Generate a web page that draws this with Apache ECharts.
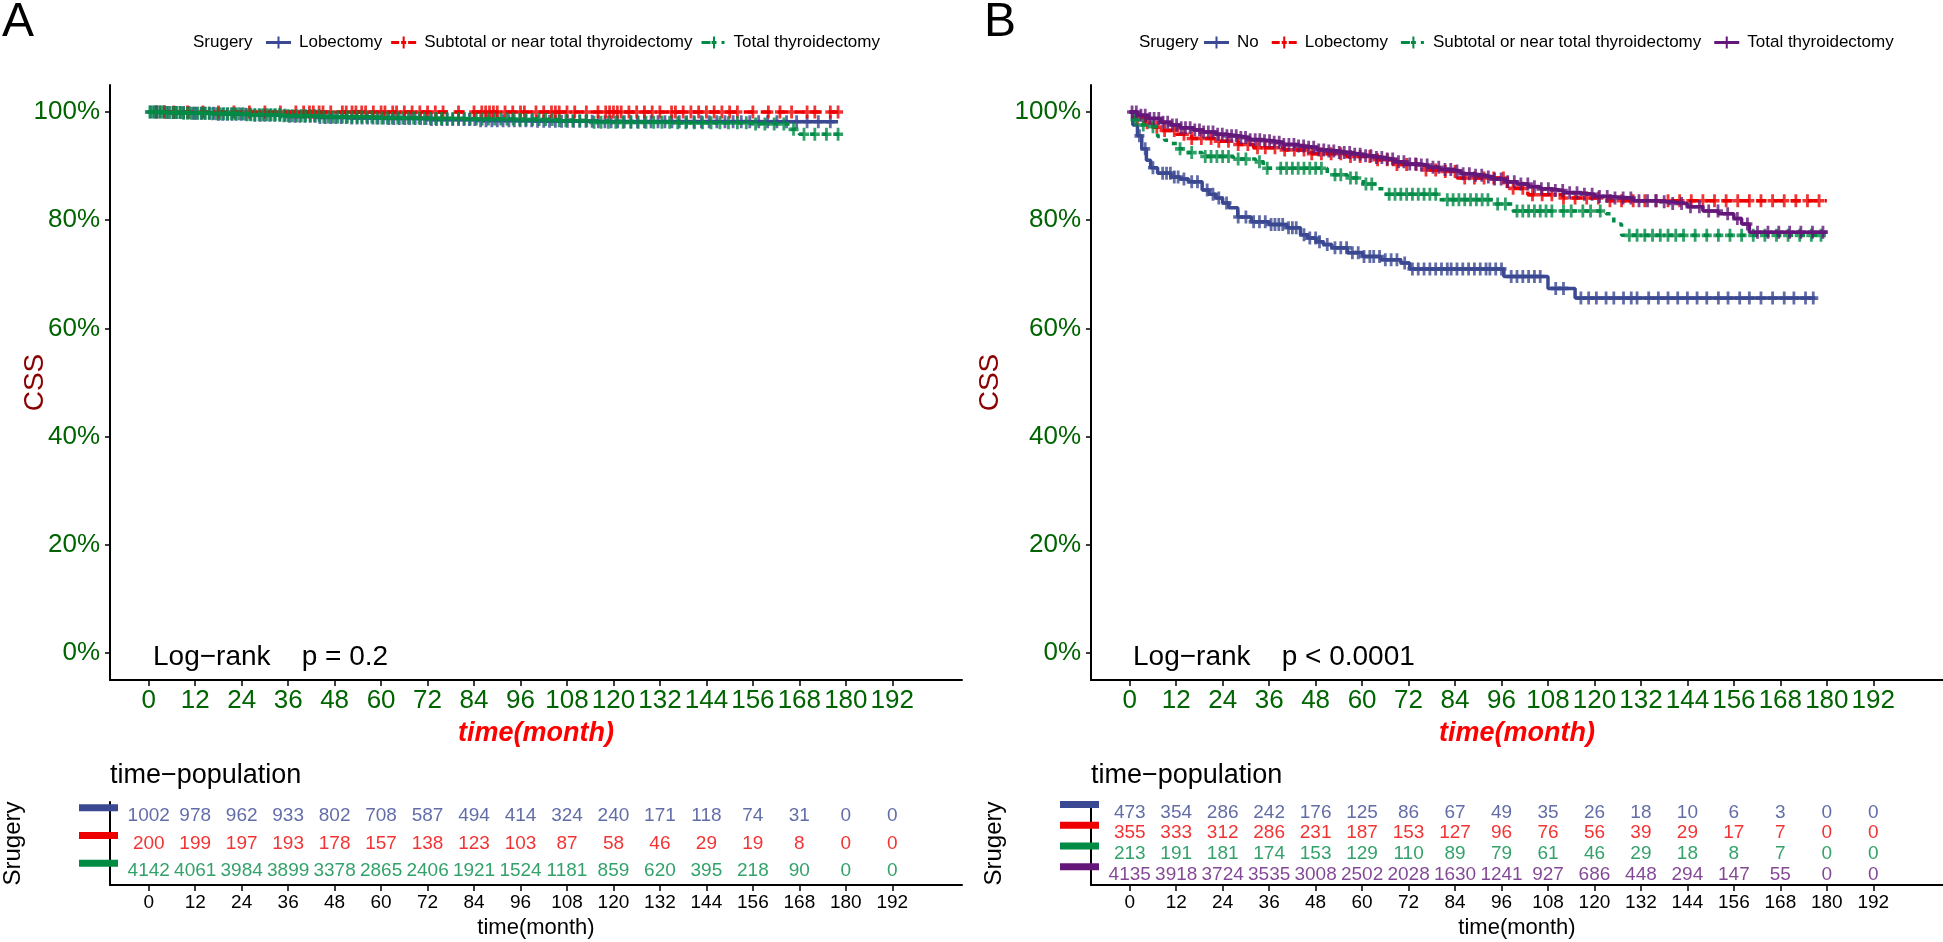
<!DOCTYPE html>
<html><head><meta charset="utf-8">
<script src="https://cdn.jsdelivr.net/npm/echarts@6/dist/echarts.min.js"></script>
<style>html,body{margin:0;padding:0;background:#fff}#c{width:1943px;height:942px}</style>
</head><body><div id="c"></div>
<script>
// ---------- tick labels ----------
const timeTicks = [0,12,24,36,48,60,72,84,96,108,120,132,144,156,168,180,192];
const survTicks = [0,20,40,60,80,100];

// ---------- strata ----------
const strataA = ['Lobectomy','Subtotal or near total thyroidectomy','Total thyroidectomy'];
const strataB = ['No','Lobectomy','Subtotal or near total thyroidectomy','Total thyroidectomy'];

// ---------- Kaplan-Meier steps [month, CSS %] ----------
const kmA_Lob = [[0,100],[5,99.9],[11,99.8],[18,99.6],[27,99.4],[36,99.2],[44,99.0],[52,98.9],[62,98.8],[73,98.6],[85,98.4],[100,98.3],[116,98.2],[178,98.2]];
const kmA_Sub = [[0,100],[178,100]];
const kmA_Tot = [[0,100],[4,99.9],[9,99.8],[16,99.7],[25,99.5],[34,99.3],[45,99.1],[58,98.9],[70,98.8],[82,98.7],[95,98.6],[106,98.4],[114,98.1],[135,98.0],[155,97.8],[166,96.8],[168,95.9],[179,95.9]];

const kmB_No  = [[0,100],[0.8,97.6],[2,95.6],[3.1,93.2],[4.3,91.1],[5.4,89.7],[7.2,88.7],[10.6,88.0],[13,87.6],[15.2,87.1],[18.7,85.6],[20.5,84.8],[22.2,84.1],[24,83.2],[25.6,82.3],[27.9,80.6],[31.4,79.7],[36,79.2],[40.6,78.6],[44.1,77.3],[46,76.7],[48.1,76.0],[50,75.5],[52.2,74.9],[56.2,74.0],[60.2,73.3],[64.8,72.7],[70,72.1],[72.3,71.0],[96.6,69.6],[108,67.4],[115,65.6],[177,65.6]];
const kmB_Lob = [[0,100],[2,99.0],[4,98.0],[6,97.2],[8,96.6],[12,95.9],[16,95.1],[22,94.6],[28,94.0],[32,93.4],[40,93.0],[47,92.3],[56,91.8],[64,91.2],[68,90.3],[76,89.3],[80,89.0],[84.5,87.8],[97.5,85.9],[102.8,84.7],[112,84.1],[124,83.6],[180,83.6]];
const kmB_Sub = [[0,100],[1,98.6],[2,97.6],[4.9,97.3],[7.2,95.5],[9,94.8],[10.6,94.2],[12.5,93.2],[14.1,92.5],[18.7,91.8],[26.8,91.3],[32.5,90.8],[34.5,89.6],[51,88.4],[56.2,87.8],[60.3,86.7],[63.7,85.8],[65.6,84.8],[79.8,83.8],[93.7,83.0],[99,81.7],[123,81.2],[125,79.3],[127,77.2],[179,77.2]];
const kmB_Tot = [[0,100],[2,99.4],[4.9,98.8],[8,98.1],[10.6,97.6],[13,97.1],[16.4,96.7],[19,96.3],[22.2,95.9],[25,95.6],[27.9,95.3],[31,94.9],[33.7,94.7],[37,94.4],[39.6,94.0],[43,93.7],[45.2,93.5],[48.5,93.0],[51,92.8],[54,92.5],[57,92.2],[60,91.9],[62.5,91.6],[65.7,91.3],[68.3,90.8],[71,90.4],[74.2,90.2],[77,89.8],[80,89.4],[83,89.1],[85.6,88.6],[88.5,88.3],[91.5,88.0],[94,87.6],[97,87.1],[100,86.7],[102.9,86.2],[106,85.8],[108.7,85.5],[112,85.1],[116,84.8],[120,84.4],[124,84.1],[130,83.6],[136,83.4],[140,83.1],[144,82.5],[148,81.7],[152,81.2],[156,80.3],[158,79.3],[160,77.8],[180,77.8]];

// ---------- censoring times (months) ----------
const censA_Lob = [0.5,1.5,2.2,3,4.1,5,6.3,7,8.2,9,10.4,11.5,12.3,13.6,14.5,15.7,16.8,18,19.1,20.3,21.5,22.6,23.9,25,26.2,27.4,28.8,30,31.3,32.5,33.9,35.2,36.4,37.8,39,40.3,41.7,43,44.2,45.6,47,48.3,49.7,51,52.4,53.8,55.1,56.5,57.9,59.2,60.6,62,63.3,64.7,66.1,67.4,68.8,70.2,71.6,73,74.3,75.7,77.1,78.5,80,81.4,82.8,84.2,85.7,87.1,88.6,90,91.5,93,94.4,95.9,97.4,98.9,100.4,102,103.5,105,106.6,108.1,109.7,111.3,112.9,114.5,116.1,117.8,119.4,121.1,122.8,124.5,126.2,128,129.7,131.5,133.3,135.1,137,138.9,140.8,142.7,144.7,146.7,148.8,150.9,153,155.2,157.5,159.8,162.2,164.7,167.3,170,172.9,176];
const censA_Sub = [2,4,6.5,10,14,18,22,26,30,34,38,40,41.5,42.5,44,45,47,50,51,52.5,53.5,55,56,58,60,61,63,64,66,68,70,72,74,76,80,84,86,87,88,89,90,92,94,96,97,100,102,104,105,106,108,110,113,116,118,119,120,121,122,124,126,128,130,132,135,136,138,140,142,144,146,148,150,152,156,160,163,166,170,172,176,178];
const censA_Tot = [0.3,1.2,2,2.9,3.7,4.6,5.5,6.4,7.3,8.1,9,10,10.9,11.8,12.7,13.7,14.6,15.6,16.5,17.5,18.4,19.4,20.4,21.4,22.3,23.3,24.3,25.4,26.4,27.4,28.5,29.5,30.6,31.6,32.7,33.8,34.9,36,37.1,38.2,39.4,40.5,41.7,42.8,44,45.2,46.4,47.6,48.8,50,51.3,52.5,53.8,55,56.3,57.6,58.9,60.2,61.6,62.9,64.3,65.6,67,68.4,69.8,71.2,72.7,74.1,75.6,77,78.5,80,81.5,83,84.6,86.1,87.7,89.3,90.9,92.5,94.1,95.8,97.4,99.1,100.8,102.5,104.2,106,107.7,109.5,111.3,113.1,115,116.8,118.7,120.6,122.5,124.5,126.4,128.4,130.4,132.5,134.5,136.6,138.7,140.9,143,145.2,147.5,149.7,152,154.3,156.7,159.1,161.5,164,166.5,169.2,172,175,178];

const censB_No  = [2.5,4,6,8.5,9.5,10.5,11.5,12.5,14,16,17.5,20,21.5,23,25,28,30,32,33.5,35,36.5,37.5,38.5,39.5,41,42,43,45,46.5,48,49,51,53,54.5,56,57.5,59,60.5,62,63,64.5,66,67.5,69,71,73,74.5,76,77.5,79,80.5,82,83,84.5,86,87.5,89,90.5,92,93,94.5,96,98.5,100,101.5,103,104.5,106,110,112,116.5,118.5,120.5,123,125,127.5,129.5,131,134,136.5,139,141.5,144,146.5,149,152,154.5,157.5,160,163,166,169,171.5,174.5,176.5];
const censB_Lob = [2,4.5,7,9,11.5,14,16,18.5,21,23,25.5,28,30.5,33,35,37.5,40,42.5,45,47,49.5,52,54.5,57,59.5,62,64,66.5,69,71.5,74,76.5,79,81.5,84,86.5,89,91.5,94,96.5,99,101.5,104,106.5,109,112,115,118,121,124,127,130,133,136,139,142,145,148,151,154,157,160,163,166,169,172,175,178];
const censB_Sub = [1.5,3.5,6,13,16,19.5,21,22.5,24,25.5,28,30,33.5,35.5,39,40.5,42,43.5,45,46.5,48,49.5,53,54.5,57,58.5,61,62.5,67,68.5,70,71.5,73,74.5,76,77.5,79,82,83.5,85,86.5,88,89.5,91,92.5,95,97,100,101.5,103,104.5,106,107.5,109,112,114,117,119,121.5,129,131,133,135,137,139,141,143,146,149,152,155,158,161,164,167,170,173,176,178.5];
const censB_Tot = [0.6,1.7,2.9,4,5.2,6.3,7.5,8.6,9.8,11,12.1,13.3,14.4,15.6,16.8,18,19.1,20.3,21.5,22.7,23.9,25.1,26.3,27.5,28.7,29.9,31.1,32.4,33.6,34.8,36.1,37.3,38.6,39.8,41.1,42.4,43.6,44.9,46.2,47.5,48.8,50.1,51.4,52.7,54.1,55.4,56.8,58.1,59.5,60.9,62.3,63.7,65.1,66.5,67.9,69.4,70.8,72.3,73.8,75.3,76.8,78.3,79.8,81.4,82.9,84.5,86.1,87.7,89.3,90.9,92.6,94.2,95.9,97.6,99.3,101,102.8,104.5,106.3,108.1,109.9,111.8,113.6,115.5,117.4,119.4,121.3,123.3,125.3,127.4,129.4,131.5,133.7,135.8,138,140.2,142.5,144.8,147.1,149.5,151.9,154.4,156.9,159.5,162.1,164.8,167.6,170.4,173.3,176.3,179];

// ---------- numbers at risk ----------
const riskA_Lob = [1002,978,962,933,802,708,587,494,414,324,240,171,118,74,31,0,0];
const riskA_Sub = [200,199,197,193,178,157,138,123,103,87,58,46,29,19,8,0,0];
const riskA_Tot = [4142,4061,3984,3899,3378,2865,2406,1921,1524,1181,859,620,395,218,90,0,0];
const riskB_No  = [473,354,286,242,176,125,86,67,49,35,26,18,10,6,3,0,0];
const riskB_Lob = [355,333,312,286,231,187,153,127,96,76,56,39,29,17,7,0,0];
const riskB_Sub = [213,191,181,174,153,129,110,89,79,61,46,29,18,8,7,0,0];
const riskB_Tot = [4135,3918,3724,3535,3008,2502,2028,1630,1241,927,686,448,294,147,55,0,0];

// ---------- styles ----------
const FONT = 'Liberation Sans, Arial, sans-serif';
const C = {blue:'#3B4992', red:'#EE0000', green:'#008B45', purple:'#631879'};
const TICK_GREEN = '#006400';
const iconSolid  = 'path://M0,4.5H11.5V0H13.5V4.5H25V7.5H13.5V12H11.5V7.5H0Z';
const iconDash   = 'path://M0,4.5H8V7.5H0Z M10,4.5H11.5V0H13.5V4.5H15V7.5H13.5V12H11.5V7.5H10Z M17,4.5H25V7.5H17Z';
const iconDot    = 'path://M0,4.5H9V7.5H0Z M10,4.5H11.5V0H13.5V4.5H15V7.5H13.5V12H11.5V7.5H10Z M20,4.5H23V7.5H20Z';
const plusSym    = 'path://M3.6,0H6.4V3.6H10V6.4H6.4V10H3.6V6.4H0V3.6H3.6Z';

function survAt(km, t){ let s = km[0][1]; for (const p of km){ if (p[0] <= t) s = p[1]; else break; } return s; }

const gridL = {A:110, B:1091};
const gbase = {outerBoundsMode:'none', containLabel:false};
const grids = [
  Object.assign({left:gridL.A, top:85, width:852, height:595}, gbase),
  Object.assign({left:gridL.A, top:802, width:852, height:83}, gbase),
  Object.assign({left:gridL.B, top:85, width:852, height:595}, gbase),
  Object.assign({left:gridL.B, top:802, width:852, height:83}, gbase)
];

function mainX(gi){ return {
  type:'value', gridIndex:gi, min:-10, max:210,
  axisLine:{show:true, onZero:false, lineStyle:{color:'#000', width:2}},
  axisTick:{show:true, customValues:timeTicks, length:6, lineStyle:{color:'#000', width:1.5}},
  axisLabel:{customValues:timeTicks, color:TICK_GREEN, fontSize:26, margin:8, fontFamily:FONT},
  splitLine:{show:false},
  name:'time(month)', nameLocation:'middle', nameGap:40, nameMoveOverlap:false,
  nameTextStyle:{color:'#FF0000', fontSize:27, fontWeight:'bold', fontStyle:'italic', fontFamily:FONT}
};}
function tableX(gi){ return {
  type:'value', gridIndex:gi, min:-10, max:210,
  axisLine:{show:true, onZero:false, lineStyle:{color:'#000', width:2}},
  axisTick:{show:true, customValues:timeTicks, length:6, lineStyle:{color:'#000', width:1.5}},
  axisLabel:{customValues:timeTicks, color:'#000', fontSize:19, margin:8, fontFamily:FONT},
  splitLine:{show:false},
  name:'time(month)', nameLocation:'middle', nameGap:32, nameMoveOverlap:false,
  nameTextStyle:{color:'#000', fontSize:22, fontFamily:FONT}
};}
function mainY(gi, gap){ return {
  type:'value', gridIndex:gi, min:-5, max:105,
  axisLine:{show:true, onZero:false, lineStyle:{color:'#000', width:2}},
  axisTick:{show:true, customValues:survTicks, length:5, lineStyle:{color:'#000', width:1.5}},
  axisLabel:{customValues:survTicks, formatter:'{value}%', color:TICK_GREEN, fontSize:26, margin:10, fontFamily:FONT},
  splitLine:{show:false},
  name:'CSS', nameLocation:'middle', nameRotate:90, nameGap:gap, nameMoveOverlap:false,
  nameTextStyle:{color:'#8B0000', fontSize:28, fontFamily:FONT}
};}
function tableY(gi, strata, cols){
  const rich = {};
  cols.forEach((c,i)=>{ rich['b'+i] = {width:39, height:7, backgroundColor:c}; });
  return {
    type:'category', gridIndex:gi, data:strata, inverse:true,
    axisLine:{show:true, onZero:false, lineStyle:{color:'#000', width:2}},
    axisTick:{show:false},
    axisLabel:{formatter:(v,i)=>'{b'+i+'|}', rich:rich, margin:-8, padding:[0,0,16,0]},
    splitLine:{show:false},
    name:'Srugery', nameLocation:'middle', nameRotate:90, nameGap:85, nameMoveOverlap:false,
    nameTextStyle:{color:'#000', fontSize:24, fontFamily:FONT}
  };
}

const series = [];
function addPanel(P, xi, ti, strata, cols, kms, cens, risks, dashes){
  strata.forEach((name, k)=>{
    const sname = P + ':' + name;
    series.push({
      type:'line', name:sname, xAxisIndex:xi, yAxisIndex:xi, step:'end',
      data:kms[k], showSymbol:false, symbol:'none', z:2+k,
      lineStyle:{color:cols[k], width:3.5, type:dashes[k]}, itemStyle:{color:cols[k]}
    });
    series.push({
      type:'scatter', name:sname, xAxisIndex:xi, yAxisIndex:xi, z:2+k,
      symbol:plusSym, symbolSize:[10,13], itemStyle:{color:cols[k]},
      data:cens[k].map(t=>[t, survAt(kms[k], t)])
    });
    series.push({
      type:'scatter', name:'risk-'+sname, xAxisIndex:ti, yAxisIndex:ti,
      symbolSize:0.1, itemStyle:{color:'rgba(0,0,0,0)'},
      label:{show:true, position:'inside', formatter:p=>String(p.value[2]), color:cols[k], fontSize:19, fontFamily:FONT},
      data:risks[k].map((n,i)=>[timeTicks[i], name, n])
    });
  });
}
addPanel('A', 0, 1, strataA, [C.blue, C.red, C.green],
  [kmA_Lob, kmA_Sub, kmA_Tot], [censA_Lob, censA_Sub, censA_Tot], [riskA_Lob, riskA_Sub, riskA_Tot],
  ['solid',[10,7],[5,7]]);
addPanel('B', 2, 3, strataB, [C.blue, C.red, C.green, C.purple],
  [kmB_No, kmB_Lob, kmB_Sub, kmB_Tot], [censB_No, censB_Lob, censB_Sub, censB_Tot], [riskB_No, riskB_Lob, riskB_Sub, riskB_Tot],
  ['solid',[10,7],[5,7],'solid']);

function legend(P, left, strata, icons, gap){ return {
  left:left, top:29, orient:'horizontal', itemWidth:25, itemHeight:12, itemGap:gap, selectedMode:false,
  data:strata.map((n,i)=>({name:P+':'+n, icon:icons[i]})),
  formatter:n=>n.slice(2),
  textStyle:{color:'#000', fontSize:17, fontFamily:FONT, padding:[0,0,0,3]}
};}

function txt(x, y, s, size, extra){ return Object.assign({type:'text', x:x, y:y, silent:true,
  style:{text:s, fontSize:size, fontFamily:FONT, fill:'#000', align:'left', verticalAlign:'middle'}}, extra||{}); }

const option = {
  animation:false,
  backgroundColor:'#fff',
  textStyle:{fontFamily:FONT},
  grid:grids,
  xAxis:[mainX(0), tableX(1), mainX(2), tableX(3)],
  yAxis:[mainY(0,61), tableY(1, strataA, [C.blue,C.red,C.green]), mainY(2,87), tableY(3, strataB, [C.blue,C.red,C.green,C.purple])],
  legend:[
    legend('A', 261, strataA, [iconSolid, iconDash, iconDot], 9),
    legend('B', 1199, strataB, [iconSolid, iconDash, iconDot, iconSolid], 13)
  ],
  graphic:[
    txt(2, 23, 'A', 48),
    txt(984, 23, 'B', 48),
    txt(193, 42, 'Srugery', 17),
    txt(1139, 42, 'Srugery', 17),
    txt(153, 657, 'Log\u2212rank    p = 0.2', 28),
    txt(1133, 657, 'Log\u2212rank    p < 0.0001', 28),
    txt(110, 776, 'time\u2212population', 27),
    txt(1091, 776, 'time\u2212population', 27)
  ],
  series:series
};
const chart = echarts.init(document.getElementById('c'), null, {renderer:'canvas'});
chart.setOption(option);
</script></body></html>
